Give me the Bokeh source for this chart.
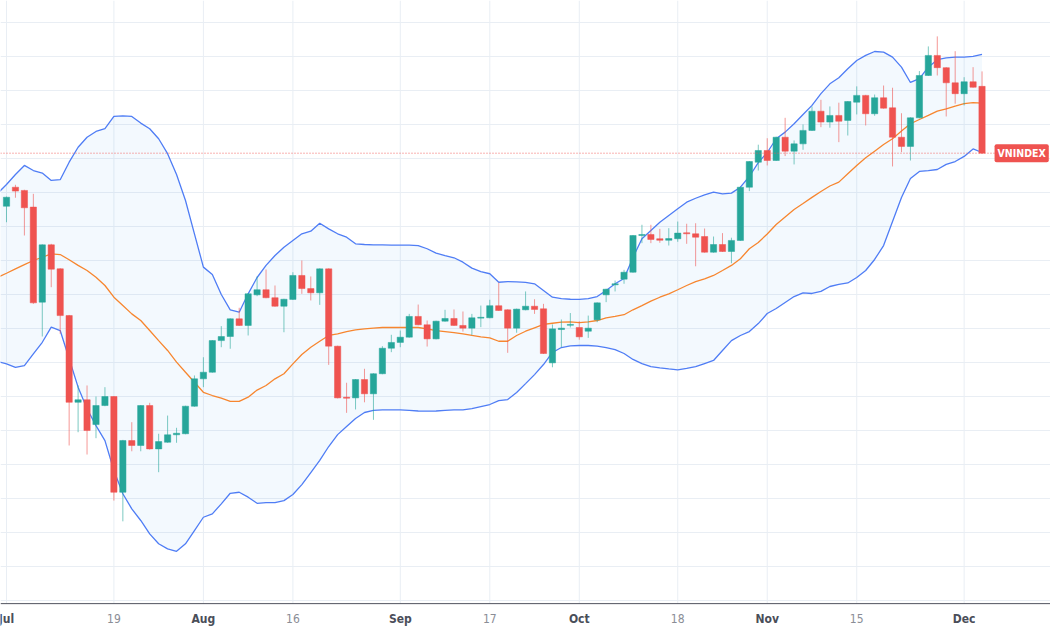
from bokeh.plotting import figure
from bokeh.models import ColumnDataSource, SingleIntervalTicker, Span, Label, Range1d
from bokeh.core.properties import value
from bokeh.embed import file_html
from bokeh.resources import INLINE

# ---- VNINDEX daily candles, 1 Jul 2021 .. 3 Dec 2021 (index = trading day) ----
open_ = [1411.9, 1423.1, 1421.2, 1411.4, 1355.5, 1389.2, 1375.1, 1347.6, 1296.6, 1298.1,
         1283.5, 1294.7, 1300.0, 1243.7, 1274.1, 1271.2, 1294.7, 1269.2, 1273.1, 1277.5,
         1278.1, 1294.3, 1310.4, 1314.3, 1332.9, 1335.3, 1345.7, 1341.8, 1359.8, 1362.8,
         1358.1, 1353.1, 1357.1, 1371.2, 1363.5, 1361.0, 1375.1, 1329.6, 1299.6, 1299.2,
         1310.0, 1301.6, 1313.4, 1328.4, 1331.8, 1334.9, 1347.1, 1342.2, 1333.9, 1344.3,
         1345.9, 1341.8, 1340.2, 1346.1, 1346.3, 1353.4, 1351.0, 1340.2, 1351.0, 1353.1,
         1351.6, 1319.8, 1339.4, 1341.9, 1340.6, 1338.4, 1345.1, 1359.8, 1365.7, 1369.0,
         1373.1, 1394.7, 1395.3, 1392.8, 1391.9, 1392.8, 1396.3, 1395.7, 1394.1, 1384.9,
         1389.4, 1385.3, 1391.8, 1423.1, 1437.8, 1444.7, 1438.8, 1452.5, 1444.3, 1448.6,
         1456.5, 1467.8, 1461.4, 1465.3, 1462.4, 1473.1, 1477.1, 1466.3, 1475.7, 1469.8,
         1452.5, 1447.1, 1463.9, 1488.8, 1500.6, 1493.4, 1484.5, 1478.1, 1485.1, 1482.4]
high_ = [1417.6, 1424.5, 1421.6, 1419.2, 1389.5, 1389.8, 1375.5, 1348.0, 1306.5, 1306.5,
         1300.0, 1305.5, 1300.3, 1274.5, 1284.9, 1295.0, 1296.3, 1278.1, 1288.8, 1281.6,
         1294.6, 1312.4, 1323.1, 1333.2, 1341.4, 1346.0, 1352.2, 1360.7, 1370.6, 1374.7,
         1365.3, 1357.5, 1373.1, 1380.0, 1370.6, 1375.4, 1375.4, 1329.9, 1308.1, 1310.3,
         1316.3, 1313.7, 1329.6, 1336.3, 1338.8, 1348.6, 1354.1, 1344.7, 1344.6, 1351.0,
         1351.2, 1350.0, 1348.6, 1353.5, 1356.9, 1366.9, 1351.3, 1351.7, 1361.8, 1357.2,
         1354.5, 1342.4, 1345.3, 1349.1, 1344.3, 1347.6, 1355.4, 1363.4, 1368.2, 1374.5,
         1395.0, 1401.0, 1401.0, 1398.6, 1399.0, 1402.9, 1401.6, 1401.9, 1398.8, 1394.1,
         1396.1, 1393.4, 1423.4, 1438.5, 1448.1, 1451.9, 1452.8, 1463.9, 1450.6, 1460.0,
         1470.6, 1474.5, 1470.6, 1472.8, 1473.8, 1482.4, 1477.4, 1477.6, 1482.9, 1481.6,
         1466.6, 1464.2, 1491.4, 1505.9, 1511.8, 1493.7, 1503.1, 1487.8, 1493.7, 1491.2]
low_ = [1402.5, 1416.9, 1394.7, 1354.5, 1335.3, 1364.3, 1336.9, 1271.2, 1279.0, 1265.9,
        1275.5, 1294.3, 1238.8, 1226.6, 1267.8, 1267.8, 1268.8, 1255.5, 1272.8, 1272.8,
        1277.8, 1294.0, 1305.5, 1314.0, 1329.0, 1328.1, 1341.5, 1335.9, 1359.0, 1357.8,
        1352.8, 1337.8, 1356.8, 1360.4, 1356.5, 1353.9, 1318.6, 1298.9, 1290.4, 1292.4,
        1296.6, 1286.3, 1313.1, 1326.1, 1329.0, 1334.6, 1341.9, 1329.4, 1333.6, 1344.0,
        1341.5, 1338.2, 1336.1, 1340.8, 1346.0, 1350.3, 1325.7, 1337.5, 1350.7, 1348.6,
        1325.0, 1317.2, 1329.0, 1340.6, 1333.4, 1334.5, 1343.7, 1355.5, 1361.8, 1366.3,
        1372.8, 1390.2, 1390.2, 1390.4, 1388.8, 1391.0, 1389.8, 1376.6, 1384.6, 1384.6,
        1385.0, 1378.4, 1391.5, 1420.8, 1432.9, 1435.9, 1438.5, 1441.4, 1436.5, 1445.1,
        1456.2, 1458.4, 1458.1, 1449.6, 1453.5, 1465.9, 1459.4, 1465.1, 1469.3, 1435.3,
        1443.7, 1438.8, 1463.6, 1488.5, 1488.8, 1464.7, 1472.2, 1471.2, 1481.6, 1442.8]
close_ = [1417.2, 1420.8, 1411.0, 1355.1, 1389.2, 1374.9, 1347.6, 1296.6, 1298.1, 1280.0,
          1294.7, 1300.0, 1243.7, 1274.1, 1271.2, 1294.7, 1269.2, 1273.5, 1277.5, 1278.4,
          1294.3, 1310.4, 1314.3, 1332.9, 1335.3, 1345.7, 1341.8, 1360.4, 1362.8, 1358.1,
          1353.1, 1357.2, 1371.2, 1363.5, 1361.0, 1375.1, 1329.6, 1299.2, 1299.0, 1310.0,
          1301.6, 1313.4, 1328.4, 1331.8, 1334.9, 1347.1, 1342.2, 1333.9, 1344.3, 1345.9,
          1341.8, 1340.2, 1346.3, 1346.6, 1353.4, 1350.6, 1340.2, 1351.4, 1353.1, 1351.2,
          1325.3, 1339.8, 1340.2, 1342.4, 1335.1, 1340.2, 1355.1, 1363.1, 1366.3, 1373.1,
          1394.7, 1395.3, 1392.4, 1391.9, 1392.9, 1396.1, 1395.7, 1393.7, 1384.9, 1389.4,
          1385.3, 1391.8, 1423.1, 1438.2, 1444.7, 1438.8, 1452.5, 1444.3, 1448.6, 1456.5,
          1467.8, 1461.4, 1465.3, 1461.9, 1473.5, 1477.1, 1466.3, 1475.7, 1469.6, 1452.5,
          1447.1, 1463.9, 1488.8, 1500.6, 1493.4, 1484.5, 1478.1, 1485.1, 1481.9, 1443.1]

# ---- Bollinger Bands (20, 2) as drawn, starting one session before 1 Jul ----
bb_upper = [1419.4, 1424.7, 1430.6, 1435.9, 1432.9, 1431.4, 1427.1, 1427.5, 1437.8, 1446.6,
            1452.5, 1455.9, 1457.5, 1464.7, 1465.1, 1464.7, 1460.8, 1457.5, 1451.6, 1442.8,
            1430.6, 1415.3, 1395.7, 1376.1, 1371.8, 1360.0, 1351.0, 1349.6, 1360.4, 1370.0,
            1377.1, 1382.9, 1387.8, 1391.8, 1395.7, 1397.2, 1401.9, 1398.6, 1395.7, 1393.7,
            1389.8, 1389.4, 1389.2, 1389.2, 1389.0, 1389.0, 1389.0, 1388.8, 1386.9, 1384.3,
            1382.9, 1381.6, 1379.0, 1375.5, 1373.5, 1372.2, 1367.2, 1367.6, 1367.4, 1367.1,
            1366.3, 1362.4, 1358.4, 1357.6, 1357.2, 1357.1, 1357.6, 1358.8, 1362.4, 1366.3,
            1369.4, 1381.8, 1392.8, 1397.6, 1402.5, 1406.5, 1410.4, 1414.3, 1416.6, 1418.6,
            1420.2, 1419.2, 1419.6, 1423.1, 1429.4, 1437.6, 1443.5, 1451.6, 1455.5, 1460.4,
            1465.9, 1471.2, 1478.1, 1483.9, 1487.5, 1492.8, 1497.6, 1500.6, 1502.9, 1502.5,
            1499.6, 1493.7, 1484.7, 1487.0, 1493.7, 1498.1, 1499.2, 1499.6, 1499.6, 1500.0,
            1501.2]
bb_basis = [1370.0, 1372.5, 1375.1, 1377.6, 1380.0, 1381.9, 1383.9, 1383.5, 1380.4, 1377.1,
            1374.1, 1370.2, 1365.3, 1358.4, 1353.5, 1348.6, 1344.7, 1338.8, 1332.9, 1327.1,
            1320.2, 1314.3, 1308.4, 1302.5, 1300.6, 1299.0, 1297.1, 1297.1, 1299.6, 1303.8,
            1306.5, 1310.4, 1313.4, 1319.2, 1324.7, 1329.0, 1332.5, 1335.9, 1336.9, 1338.2,
            1339.2, 1339.8, 1340.2, 1340.6, 1340.6, 1340.6, 1340.6, 1340.6, 1339.8, 1338.8,
            1338.2, 1337.6, 1336.9, 1335.9, 1335.1, 1334.5, 1332.5, 1332.5, 1335.9, 1338.4,
            1340.4, 1342.4, 1343.1, 1343.7, 1343.9, 1343.5, 1343.9, 1344.7, 1346.3, 1347.1,
            1348.1, 1351.0, 1353.5, 1356.1, 1358.4, 1360.4, 1362.8, 1365.3, 1367.6, 1369.2,
            1371.2, 1374.1, 1377.1, 1381.0, 1386.9, 1390.6, 1395.6, 1401.2, 1405.6, 1410.0,
            1413.5, 1417.1, 1420.6, 1423.8, 1426.1, 1431.0, 1435.9, 1440.4, 1444.3, 1448.2,
            1451.6, 1456.1, 1460.4, 1462.9, 1465.3, 1467.8, 1469.2, 1470.8, 1472.2, 1472.9,
            1472.5]
bb_lower = [1320.6, 1319.2, 1317.2, 1318.2, 1325.1, 1331.9, 1340.8, 1338.8, 1322.2, 1305.5,
            1292.8, 1282.9, 1274.1, 1256.5, 1242.8, 1233.9, 1227.1, 1219.2, 1213.4, 1210.4,
            1209.0, 1213.4, 1221.2, 1229.0, 1231.0, 1236.9, 1243.1, 1243.7, 1240.8, 1237.2,
            1237.6, 1237.6, 1238.8, 1242.4, 1248.2, 1255.3, 1262.4, 1270.6, 1277.6, 1282.4,
            1287.1, 1290.6, 1291.8, 1292.2, 1292.2, 1292.1, 1291.8, 1291.5, 1291.4, 1291.5,
            1291.8, 1292.1, 1292.2, 1292.9, 1294.1, 1295.3, 1297.6, 1298.2, 1302.4, 1307.6,
            1312.9, 1318.8, 1325.9, 1328.8, 1329.8, 1330.0, 1330.0, 1329.6, 1328.8, 1327.6,
            1325.3, 1321.8, 1319.4, 1317.6, 1316.8, 1316.2, 1315.7, 1316.5, 1317.6, 1319.4,
            1321.2, 1327.1, 1332.9, 1335.9, 1338.2, 1342.9, 1348.8, 1351.8, 1355.3, 1358.8,
            1361.0, 1360.6, 1361.8, 1364.7, 1365.9, 1366.8, 1370.0, 1374.1, 1380.6, 1388.8,
            1402.9, 1417.1, 1428.2, 1432.4, 1432.9, 1433.5, 1436.5, 1438.2, 1441.2, 1445.6,
            1443.5]

# ---- time axis ticks (trading-day index) ----
tick_idx = [0, 12, 22, 32, 44, 54, 64, 75, 85, 95, 107]
tick_labels = ["Jul", "19", "Aug", "16", "Sep", "17", "Oct", "18", "Nov", "15", "Dec"]
month_tick = [True, False, True, False, True, False, True, False, True, False, True]

symbol = "VNINDEX"

UP = "#26a69a"
DOWN = "#ef5350"
GRID = "#e9eef4"
FONT = "DejaVu Sans Condensed"

# layout of the price pane (data units of the hidden price scale)
Y_TOP = 1532.9      # top edge of the picture
AXIS_Y = 1178.2     # time-axis line
LABEL_Y = 1169.4    # time-axis labels
Y_BOTTOM = 1162.4   # bottom edge of the picture

n = len(close_)
idx = list(range(n))
band_idx = list(range(-1, n))
colors = [UP if c >= o else DOWN for o, c in zip(open_, close_)]
src = ColumnDataSource(dict(
    x=idx, o=open_, h=high_, l=low_, c=close_,
    top=[max(o, c) for o, c in zip(open_, close_)],
    bot=[min(o, c) for o, c in zip(open_, close_)],
    color=colors))
bsrc = ColumnDataSource(dict(x=band_idx, up=bb_upper, mid=bb_basis, lo=bb_lower))

p = figure(frame_width=1050, frame_height=630,
           x_range=Range1d(-0.67, 116.65), y_range=Range1d(Y_BOTTOM, Y_TOP),
           output_backend="svg", toolbar_location=None,
           x_axis_location=None, y_axis_location=None, min_border=0)
p.outline_line_color = None
p.background_fill_color = "white"
p.border_fill_color = "white"

p.xgrid.visible = False
p.ygrid.ticker = SingleIntervalTicker(interval=20)
p.ygrid.grid_line_color = GRID

# vertical grid lines at the time ticks, stopping at the axis line
p.segment(x0=tick_idx, y0=[AXIS_Y] * len(tick_idx), x1=tick_idx, y1=[Y_TOP] * len(tick_idx),
          line_color=GRID, line_width=1, level="underlay")

# bands
p.varea(x="x", y1="lo", y2="up", source=bsrc, fill_color="#2196f3", fill_alpha=0.055)
p.line(x="x", y="up", source=bsrc, line_color="#4f7df5", line_width=1.3)
p.line(x="x", y="lo", source=bsrc, line_color="#4f7df5", line_width=1.3)
p.line(x="x", y="mid", source=bsrc, line_color="#f7862f", line_width=1.3)

# candles
p.segment(x0="x", y0="l", x1="x", y1="h", source=src, line_color="color",
          line_alpha=0.6, line_width=1)
p.vbar(x="x", top="top", bottom="bot", width=0.7, source=src,
       fill_color="color", line_color="color", line_width=0.5)

# last price line and tag
p.add_layout(Span(location=close_[-1], dimension="width", line_color=DOWN,
                  line_dash="1 2", line_width=1, line_alpha=0.9))
p.add_layout(Label(x=110.4, y=close_[-1], text=symbol, text_baseline="middle",
                   text_align="left", text_color="white", text_font_size="10.5px",
                   text_font_style="bold", text_font=FONT,
                   background_fill_color=DOWN, border_radius=2, padding=3))

# time axis: line + labels
p.add_layout(Span(location=AXIS_Y, dimension="width", line_color="#50535e", line_width=1))
mx = [t for t, m in zip(tick_idx, month_tick) if m]
ml = [l for l, m in zip(tick_labels, month_tick) if m]
dx = [t for t, m in zip(tick_idx, month_tick) if not m]
dl = [l for l, m in zip(tick_labels, month_tick) if not m]
p.text(x=mx, y=[LABEL_Y] * len(mx), text=ml, text_align="center", text_baseline="middle",
       text_font=value(FONT), text_font_size="12px", text_font_style="bold",
       text_color="#4a4e59")
p.text(x=dx, y=[LABEL_Y] * len(dx), text=dl, text_align="center", text_baseline="middle",
       text_font=value(FONT), text_font_size="12px", text_color="#8a8d96")

open("out.html", "w").write(file_html(p, INLINE))
